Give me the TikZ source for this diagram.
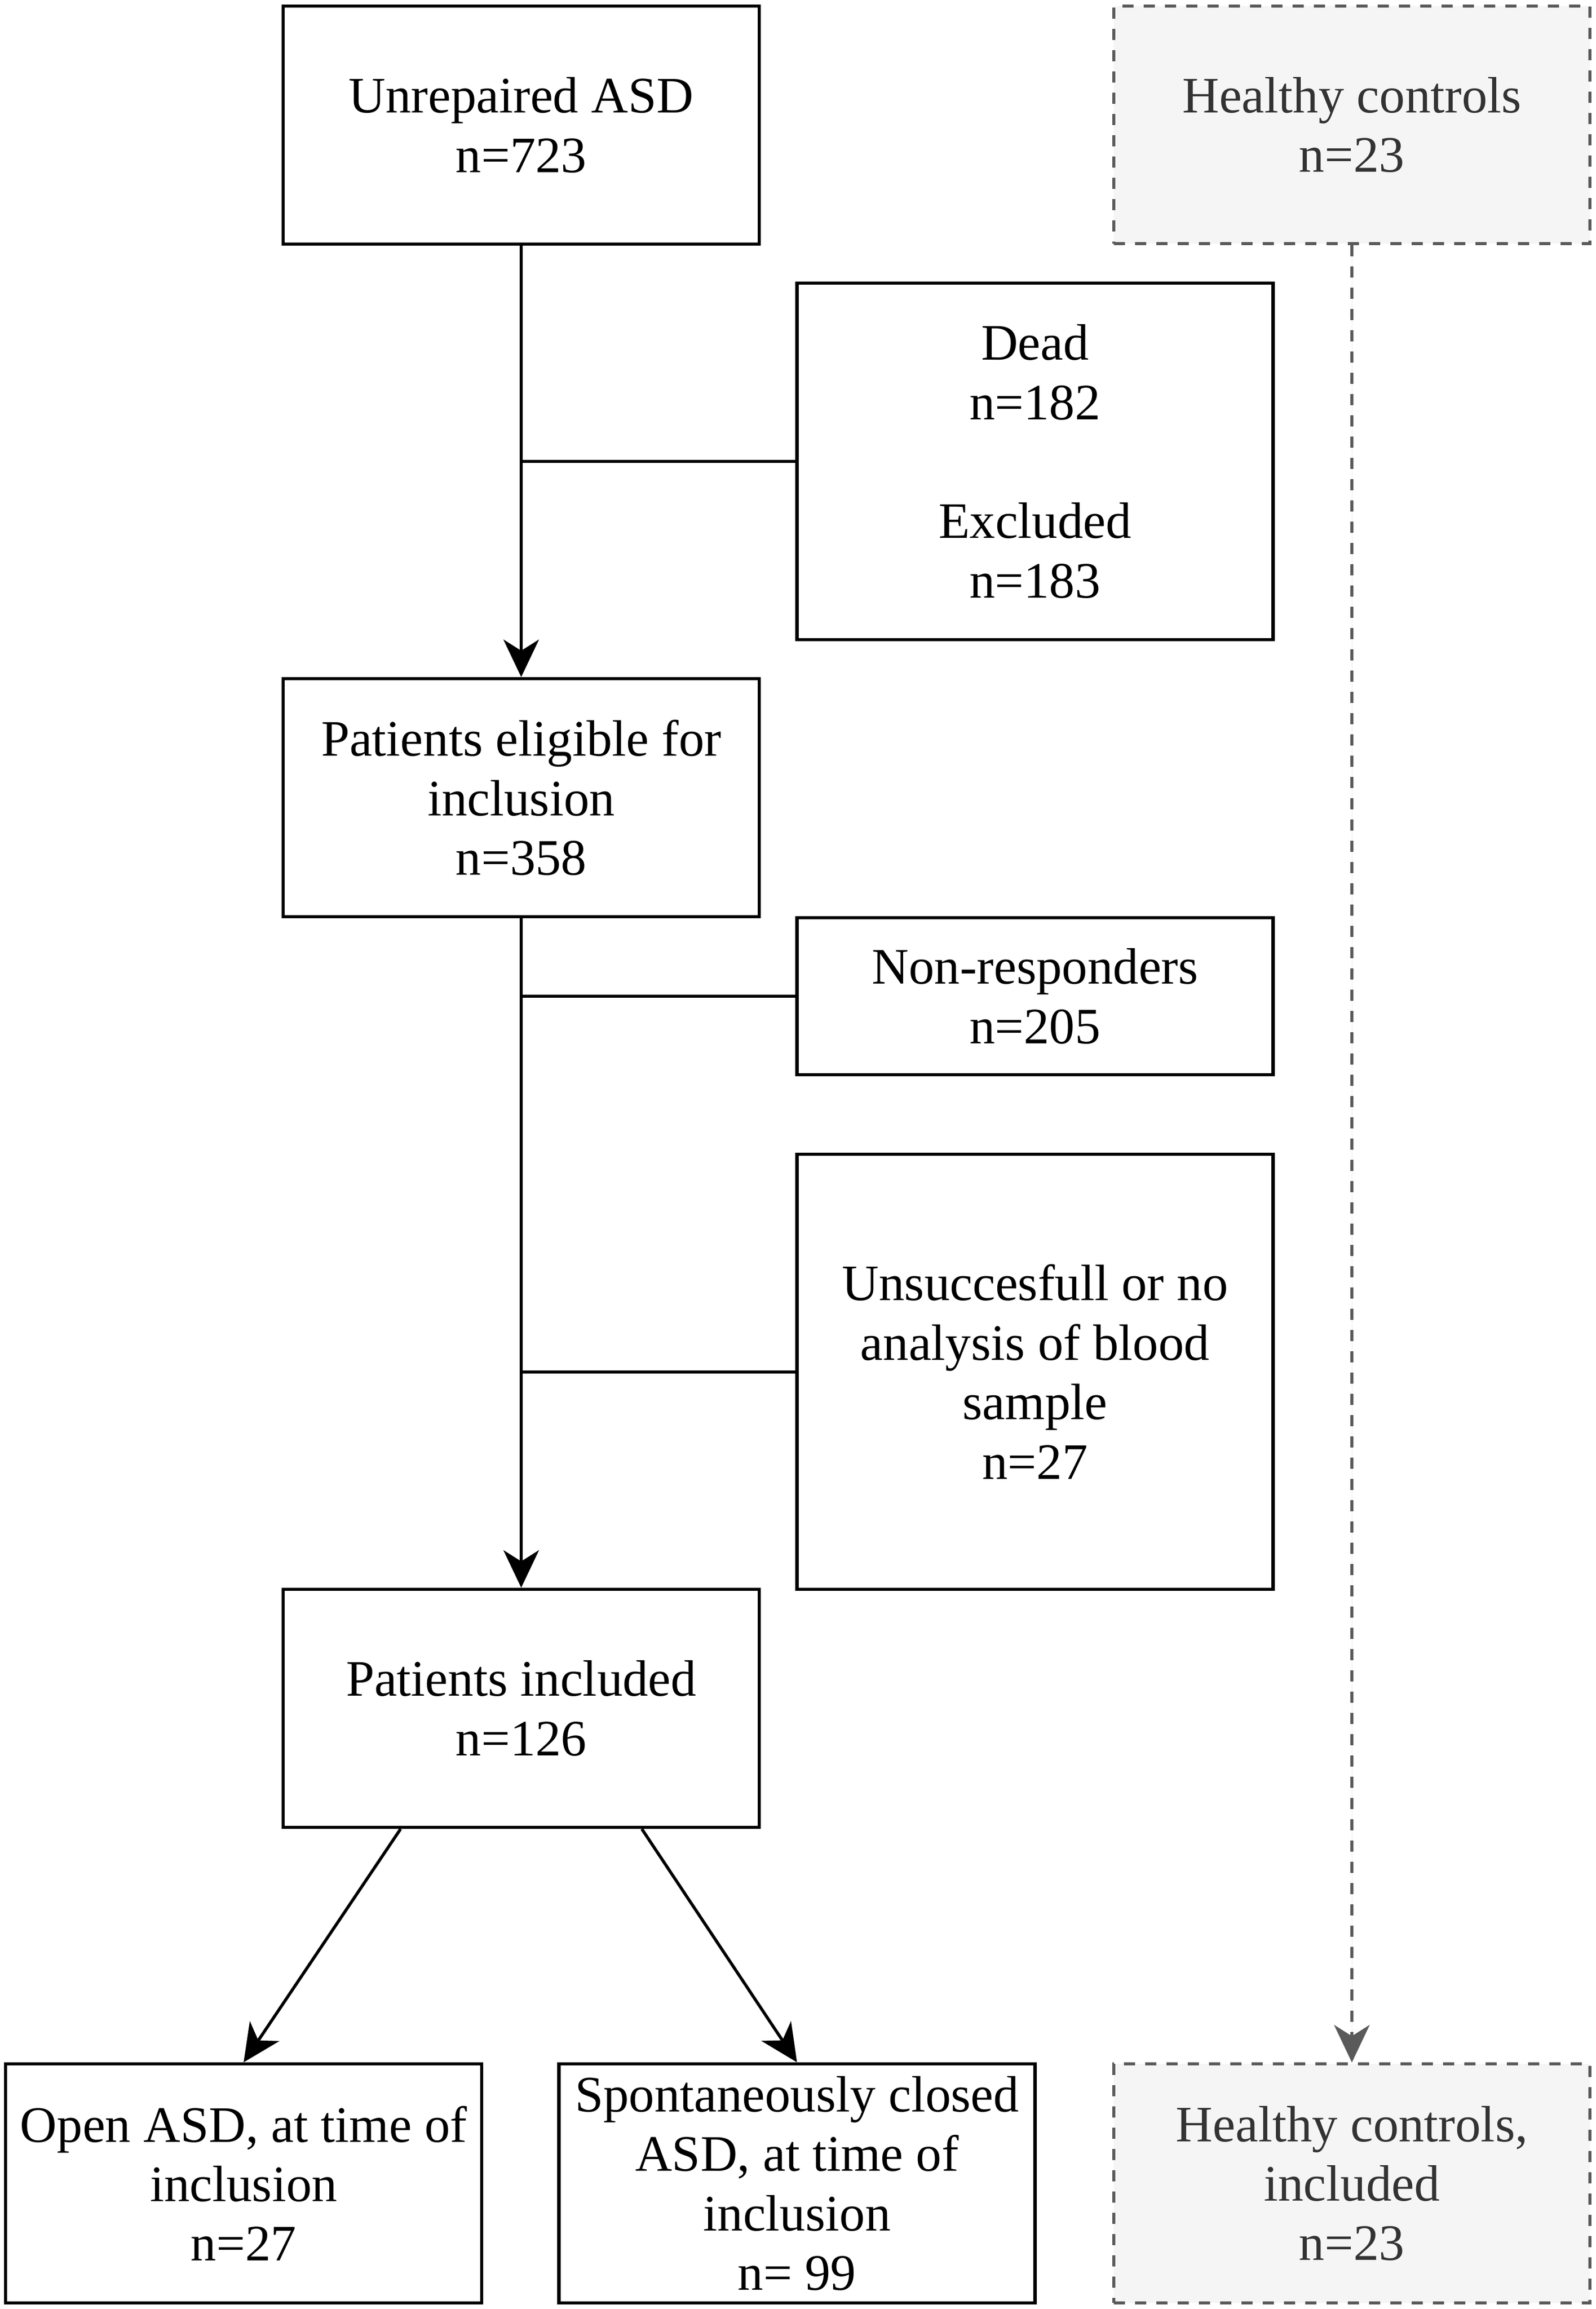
\documentclass[tikz,border=0pt]{standalone}
\usepackage{fontspec}
\setmainfont{Liberation Serif}
\usetikzlibrary{arrows.meta}
\definecolor{ctrlgray}{HTML}{5A5A5A}
\definecolor{ctrlfill}{HTML}{F5F5F5}
\definecolor{ctrltext}{HTML}{333333}

\begin{document}
\begin{tikzpicture}[
		box/.style={draw, line width=1.8pt, minimum width=9.4cm, align=center, inner sep=0pt, font=\fontsize{28.7}{33.4}\selectfont},
		ctrlbox/.style={box, draw=ctrlgray, fill=ctrlfill, text=ctrltext, line width=1.6pt, dash pattern=on 0.22cm off 0.2cm},
		flow/.style={line width=1.7pt, -{Stealth[length=0.74cm, width=0.7cm, inset=0.22cm]}},
		ctrlflow/.style={flow, draw=ctrlgray, fill=ctrlgray, dash pattern=on 0.22cm off 0.2cm},
		branch/.style={line width=1.7pt}
	]
			\useasboundingbox (0,0) rectangle (31.5,-45.59);

			\node[box, minimum height=4.7cm] (unrep) at (10.29,-2.47) {Unrepaired ASD\\n=723};
			\node[ctrlbox, minimum height=4.69cm] (hc) at (26.69,-2.465) {Healthy controls\\n=23};

			\node[box, minimum height=7.04cm] (dead) at (20.435,-9.11) {Dead\\n=182\\[\baselineskip]Excluded\\n=183};
			\node[box, minimum height=4.7cm] (elig) at (10.29,-15.75) {Patients eligible for\\inclusion\\n=358};
			\node[box, minimum height=3.1cm] (nonresp) at (20.435,-19.67) {Non-responders\\n=205};
			\node[box, minimum height=8.59cm] (unsucc) at (20.435,-27.085) {Unsuccesfull or no\\analysis of blood\\sample\\n=27};
			\node[box, minimum height=4.7cm] (incl) at (10.29,-33.73) {Patients included\\n=126};

			\node[box, minimum height=4.72cm] (openasd) at (4.81,-43.11) {Open ASD, at time of\\inclusion\\n=27};
			\node[box, minimum height=4.72cm] (closed) at (15.735,-43.11) {Spontaneously closed\\ASD, at time of\\inclusion\\n= 99};
			\node[ctrlbox, minimum height=4.72cm] (hcincl) at (26.69,-43.11) {Healthy controls,\\included\\n=23};

			\draw[flow] (unrep.south) -- (elig.north);
			\draw[branch] (dead.west) -- (dead.west -| unrep.south);

			\draw[flow] (elig.south) -- (incl.north);
			\draw[branch] (nonresp.west) -- (nonresp.west -| elig.south);
			\draw[branch] (unsucc.west) -- (unsucc.west -| elig.south);

			\draw[flow] ([xshift=2.35cm]incl.south west) -- (openasd.north);
			\draw[flow] ([xshift=-2.35cm]incl.south east) -- (closed.north);

			\draw[ctrlflow] (hc.south) -- (hcincl.north);
		\end{tikzpicture}
\end{document}
